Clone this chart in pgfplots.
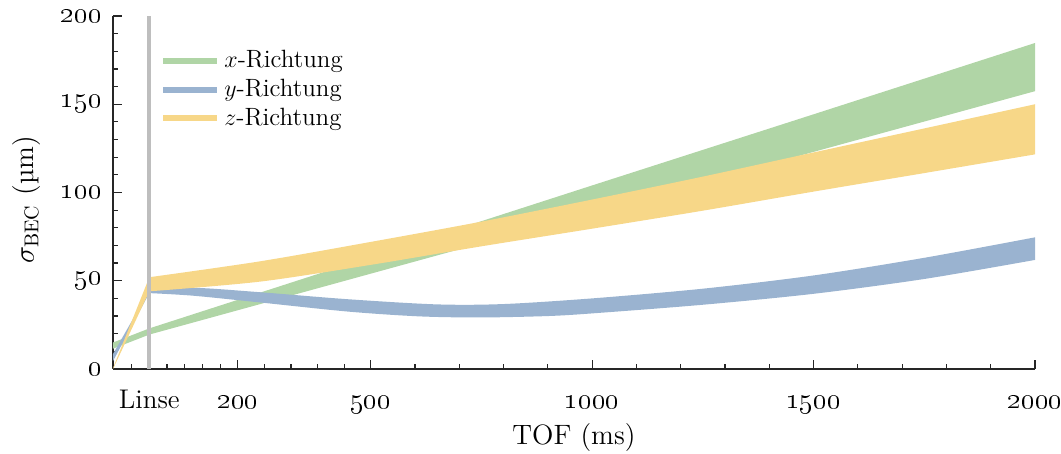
\documentclass[border=0pt]{standalone}
\usepackage{pgfplots}
\usepgfplotslibrary{fillbetween}
\pgfplotsset{compat=1.18}
\definecolor{cx}{HTML}{B0D5A6}
\definecolor{cy}{HTML}{9AB3D0}
\definecolor{cz}{HTML}{F7D788}
\definecolor{lgray}{HTML}{BEBEBE}
\begin{document}
\begin{tikzpicture}
\begin{axis}[
  scale only axis, width=461pt, height=176.5pt,
  xmin=-82, xmax=2000, ymin=0, ymax=200,
  axis x line*=bottom, axis y line*=left,
  axis line style={line width=0.7pt, black!85},
  tick align=inside,
  tick style={line width=0.6pt, black!85},
  major tick length=4.5pt, minor tick length=2.5pt,
  xtick={0,200,500,1000,1500,2000},
  xticklabels={Linse,\oldstylenums{200},\oldstylenums{500},\oldstylenums{1000},\oldstylenums{1500},\oldstylenums{2000}},
  minor xtick={-40,40,80,120,160,260,320,380,440,600,700,800,900,1100,1200,1300,1400,1600,1700,1800,1900},
  ytick={0,50,100,150,200},
  yticklabels={\oldstylenums{0},\oldstylenums{50},\oldstylenums{100},\oldstylenums{150},\oldstylenums{200}},
  minor y tick num=4,
  font=\fontsize{14}{16}\selectfont,
  tick label style={font=\fontsize{13.5}{15}\selectfont},
  xticklabel style={anchor=base, yshift=-20pt},
  yticklabel style={xshift=-2pt},
  xlabel={TOF (ms)},
  ylabel={$\sigma_{\mathrm{BEC}}$ (\textmu m)},
  xlabel style={at={(axis description cs:0.5,0)}, anchor=center, yshift=-34.5pt},
  ylabel style={at={(axis description cs:-0.0933,0.479)}, anchor=center},
  legend style={at={(axis description cs:0.051,0.915)}, anchor=north west, draw=none, fill=none, inner sep=0pt, font=\fontsize{12.5}{14}\selectfont, row sep=0.3pt},
  legend cell align=left,
  legend image code/.code={\draw[#1] (0pt,0pt) -- (27pt,0pt);},
]
% left segments (before the lens)
\addplot[fill=cx, draw=none, forget plot] coordinates {(-82,11.5) (0,19.5) (0,23) (-82,15)};
\addplot[fill=cy, draw=none, forget plot] coordinates {(-82,4.5) (0,43) (0,44.5) (-82,8.5)};
\addplot[fill=cz, draw=none, forget plot] coordinates {(-82,0) (0,44) (0,52) (-82,0.5)};
% x-Richtung
\addplot[name path=xl, draw=none, forget plot] coordinates {
  (0,19.5) (500,54) (1000,88.5) (1500,123) (2000,157.4)
};
\addplot[name path=xu, draw=none, forget plot] coordinates {
  (0,23) (500,63.5) (1000,104) (1500,144.3) (2000,184.7)
};
\addplot[cx, forget plot] fill between[of=xl and xu];
% y-Richtung
\addplot[name path=yl, draw=none, smooth, forget plot] coordinates {
  (0,43) (100,41.5) (250,37.7) (450,32.5) (611,29.8) (750,29.2) (900,30) (1000,31.5) (1250,36.4) (1500,42.6) (1750,51) (2000,61.8)
};
\addplot[name path=yu, draw=none, smooth, forget plot] coordinates {
  (0,44.5) (100,46) (250,43.5) (450,39.5) (650,36.6) (800,36.8) (1000,40) (1250,45.5) (1500,53) (1750,63) (2000,74.6)
};
\addplot[cy, forget plot] fill between[of=yl and yu];
% z-Richtung
\addplot[name path=zl, draw=none, smooth, forget plot] coordinates {
  (0,44) (250,49.5) (500,59) (750,69.5) (1000,79.5) (1250,89.7) (1500,100.5) (1750,111) (2000,121.6)
};
\addplot[name path=zu, draw=none, smooth, forget plot] coordinates {
  (0,52) (250,61) (500,72) (750,83.5) (1000,96) (1250,109) (1500,122.7) (1750,136.3) (2000,150)
};
\addplot[cz, forget plot] fill between[of=zl and zu];
% Linse
\addplot[draw=lgray, line width=2pt, forget plot] coordinates {(0,0) (0,200)};
\addlegendimage{cx, line width=3pt}
\addlegendimage{cy, line width=3pt}
\addlegendimage{cz, line width=3pt}
\legend{$x$-Richtung, $y$-Richtung, $z$-Richtung}
\end{axis}
\pgfresetboundingbox
\path[use as bounding box] (-56.5pt,-42.5pt) rectangle (474pt,184.5pt);
\end{tikzpicture}
\end{document}
